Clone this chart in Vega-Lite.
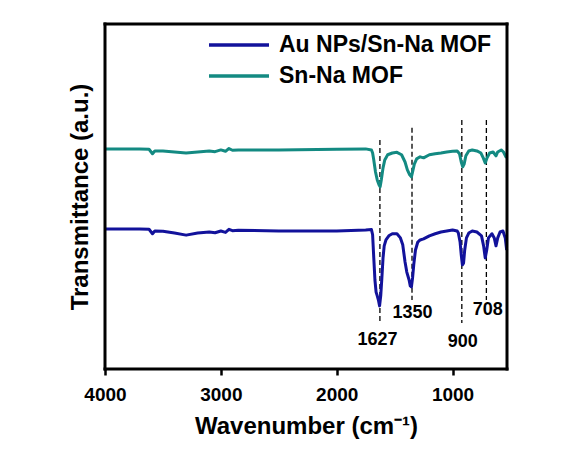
{
  "$schema": "https://vega.github.io/schema/vega-lite/v6.json",
  "autosize": {"type": "none"},
  "padding": {"left": 105, "top": 24, "right": 79, "bottom": 106},
  "width": 402,
  "height": 345,
  "background": "white",
  "config": {
    "view": {"stroke": null},
    "font": "Liberation Sans"
  },
  "datasets": {
    "spectra": [
      {"series": "Sn-Na MOF", "wn": 4000, "t": 63.8},
      {"series": "Sn-Na MOF", "wn": 3700, "t": 63.8},
      {"series": "Sn-Na MOF", "wn": 3620, "t": 63.7},
      {"series": "Sn-Na MOF", "wn": 3590, "t": 62.4},
      {"series": "Sn-Na MOF", "wn": 3570, "t": 63.2},
      {"series": "Sn-Na MOF", "wn": 3500, "t": 63.2},
      {"series": "Sn-Na MOF", "wn": 3400, "t": 62.9},
      {"series": "Sn-Na MOF", "wn": 3300, "t": 62.6},
      {"series": "Sn-Na MOF", "wn": 3200, "t": 62.9},
      {"series": "Sn-Na MOF", "wn": 3100, "t": 63.2},
      {"series": "Sn-Na MOF", "wn": 3050, "t": 63.0},
      {"series": "Sn-Na MOF", "wn": 3000, "t": 63.5},
      {"series": "Sn-Na MOF", "wn": 2960, "t": 63.1},
      {"series": "Sn-Na MOF", "wn": 2930, "t": 63.9},
      {"series": "Sn-Na MOF", "wn": 2900, "t": 63.4},
      {"series": "Sn-Na MOF", "wn": 2850, "t": 63.5},
      {"series": "Sn-Na MOF", "wn": 2500, "t": 63.5},
      {"series": "Sn-Na MOF", "wn": 2000, "t": 63.7},
      {"series": "Sn-Na MOF", "wn": 1750, "t": 63.8},
      {"series": "Sn-Na MOF", "wn": 1700, "t": 63.5},
      {"series": "Sn-Na MOF", "wn": 1690, "t": 62.6},
      {"series": "Sn-Na MOF", "wn": 1680, "t": 60.6},
      {"series": "Sn-Na MOF", "wn": 1665, "t": 57.1},
      {"series": "Sn-Na MOF", "wn": 1650, "t": 54.8},
      {"series": "Sn-Na MOF", "wn": 1635, "t": 53.4},
      {"series": "Sn-Na MOF", "wn": 1625, "t": 52.8},
      {"series": "Sn-Na MOF", "wn": 1615, "t": 54.8},
      {"series": "Sn-Na MOF", "wn": 1600, "t": 58.3},
      {"series": "Sn-Na MOF", "wn": 1585, "t": 60.6},
      {"series": "Sn-Na MOF", "wn": 1560, "t": 62.1},
      {"series": "Sn-Na MOF", "wn": 1520, "t": 62.6},
      {"series": "Sn-Na MOF", "wn": 1480, "t": 62.8},
      {"series": "Sn-Na MOF", "wn": 1440, "t": 62.1},
      {"series": "Sn-Na MOF", "wn": 1410, "t": 60.0},
      {"series": "Sn-Na MOF", "wn": 1390, "t": 57.7},
      {"series": "Sn-Na MOF", "wn": 1370, "t": 56.3},
      {"series": "Sn-Na MOF", "wn": 1355, "t": 55.7},
      {"series": "Sn-Na MOF", "wn": 1345, "t": 57.1},
      {"series": "Sn-Na MOF", "wn": 1330, "t": 59.4},
      {"series": "Sn-Na MOF", "wn": 1310, "t": 60.9},
      {"series": "Sn-Na MOF", "wn": 1280, "t": 61.5},
      {"series": "Sn-Na MOF", "wn": 1250, "t": 61.2},
      {"series": "Sn-Na MOF", "wn": 1200, "t": 62.1},
      {"series": "Sn-Na MOF", "wn": 1150, "t": 62.4},
      {"series": "Sn-Na MOF", "wn": 1100, "t": 62.6},
      {"series": "Sn-Na MOF", "wn": 1050, "t": 62.9},
      {"series": "Sn-Na MOF", "wn": 1000, "t": 63.1},
      {"series": "Sn-Na MOF", "wn": 960, "t": 63.2},
      {"series": "Sn-Na MOF", "wn": 940, "t": 62.4},
      {"series": "Sn-Na MOF", "wn": 925, "t": 60.0},
      {"series": "Sn-Na MOF", "wn": 912, "t": 58.6},
      {"series": "Sn-Na MOF", "wn": 900, "t": 59.4},
      {"series": "Sn-Na MOF", "wn": 885, "t": 61.8},
      {"series": "Sn-Na MOF", "wn": 860, "t": 63.2},
      {"series": "Sn-Na MOF", "wn": 830, "t": 63.5},
      {"series": "Sn-Na MOF", "wn": 790, "t": 63.2},
      {"series": "Sn-Na MOF", "wn": 755, "t": 62.6},
      {"series": "Sn-Na MOF", "wn": 735, "t": 61.2},
      {"series": "Sn-Na MOF", "wn": 718, "t": 59.7},
      {"series": "Sn-Na MOF", "wn": 702, "t": 61.2},
      {"series": "Sn-Na MOF", "wn": 680, "t": 62.6},
      {"series": "Sn-Na MOF", "wn": 650, "t": 62.9},
      {"series": "Sn-Na MOF", "wn": 625, "t": 61.8},
      {"series": "Sn-Na MOF", "wn": 610, "t": 62.9},
      {"series": "Sn-Na MOF", "wn": 580, "t": 63.5},
      {"series": "Sn-Na MOF", "wn": 560, "t": 62.9},
      {"series": "Sn-Na MOF", "wn": 535, "t": 61.2},
      {"series": "Au NPs/Sn-Na MOF", "wn": 4000, "t": 40.6},
      {"series": "Au NPs/Sn-Na MOF", "wn": 3700, "t": 40.6},
      {"series": "Au NPs/Sn-Na MOF", "wn": 3620, "t": 40.5},
      {"series": "Au NPs/Sn-Na MOF", "wn": 3590, "t": 39.2},
      {"series": "Au NPs/Sn-Na MOF", "wn": 3570, "t": 40.0},
      {"series": "Au NPs/Sn-Na MOF", "wn": 3500, "t": 39.9},
      {"series": "Au NPs/Sn-Na MOF", "wn": 3400, "t": 39.4},
      {"series": "Au NPs/Sn-Na MOF", "wn": 3300, "t": 38.8},
      {"series": "Au NPs/Sn-Na MOF", "wn": 3200, "t": 39.4},
      {"series": "Au NPs/Sn-Na MOF", "wn": 3100, "t": 39.7},
      {"series": "Au NPs/Sn-Na MOF", "wn": 3050, "t": 39.5},
      {"series": "Au NPs/Sn-Na MOF", "wn": 3000, "t": 40.0},
      {"series": "Au NPs/Sn-Na MOF", "wn": 2960, "t": 39.6},
      {"series": "Au NPs/Sn-Na MOF", "wn": 2930, "t": 40.5},
      {"series": "Au NPs/Sn-Na MOF", "wn": 2900, "t": 40.1},
      {"series": "Au NPs/Sn-Na MOF", "wn": 2850, "t": 40.2},
      {"series": "Au NPs/Sn-Na MOF", "wn": 2500, "t": 40.0},
      {"series": "Au NPs/Sn-Na MOF", "wn": 2000, "t": 40.0},
      {"series": "Au NPs/Sn-Na MOF", "wn": 1750, "t": 40.3},
      {"series": "Au NPs/Sn-Na MOF", "wn": 1700, "t": 40.4},
      {"series": "Au NPs/Sn-Na MOF", "wn": 1690, "t": 38.9},
      {"series": "Au NPs/Sn-Na MOF", "wn": 1680, "t": 32.2},
      {"series": "Au NPs/Sn-Na MOF", "wn": 1670, "t": 25.8},
      {"series": "Au NPs/Sn-Na MOF", "wn": 1660, "t": 22.3},
      {"series": "Au NPs/Sn-Na MOF", "wn": 1650, "t": 21.2},
      {"series": "Au NPs/Sn-Na MOF", "wn": 1640, "t": 20.0},
      {"series": "Au NPs/Sn-Na MOF", "wn": 1630, "t": 18.3},
      {"series": "Au NPs/Sn-Na MOF", "wn": 1620, "t": 21.2},
      {"series": "Au NPs/Sn-Na MOF", "wn": 1610, "t": 26.4},
      {"series": "Au NPs/Sn-Na MOF", "wn": 1600, "t": 32.2},
      {"series": "Au NPs/Sn-Na MOF", "wn": 1590, "t": 35.7},
      {"series": "Au NPs/Sn-Na MOF", "wn": 1575, "t": 37.4},
      {"series": "Au NPs/Sn-Na MOF", "wn": 1550, "t": 38.6},
      {"series": "Au NPs/Sn-Na MOF", "wn": 1520, "t": 39.2},
      {"series": "Au NPs/Sn-Na MOF", "wn": 1480, "t": 39.2},
      {"series": "Au NPs/Sn-Na MOF", "wn": 1450, "t": 38.0},
      {"series": "Au NPs/Sn-Na MOF", "wn": 1430, "t": 36.0},
      {"series": "Au NPs/Sn-Na MOF", "wn": 1410, "t": 31.0},
      {"series": "Au NPs/Sn-Na MOF", "wn": 1395, "t": 28.1},
      {"series": "Au NPs/Sn-Na MOF", "wn": 1375, "t": 25.8},
      {"series": "Au NPs/Sn-Na MOF", "wn": 1365, "t": 24.1},
      {"series": "Au NPs/Sn-Na MOF", "wn": 1355, "t": 23.8},
      {"series": "Au NPs/Sn-Na MOF", "wn": 1345, "t": 26.4},
      {"series": "Au NPs/Sn-Na MOF", "wn": 1335, "t": 30.2},
      {"series": "Au NPs/Sn-Na MOF", "wn": 1320, "t": 34.5},
      {"series": "Au NPs/Sn-Na MOF", "wn": 1300, "t": 36.8},
      {"series": "Au NPs/Sn-Na MOF", "wn": 1280, "t": 37.4},
      {"series": "Au NPs/Sn-Na MOF", "wn": 1250, "t": 37.7},
      {"series": "Au NPs/Sn-Na MOF", "wn": 1200, "t": 38.6},
      {"series": "Au NPs/Sn-Na MOF", "wn": 1150, "t": 39.2},
      {"series": "Au NPs/Sn-Na MOF", "wn": 1100, "t": 39.7},
      {"series": "Au NPs/Sn-Na MOF", "wn": 1050, "t": 40.0},
      {"series": "Au NPs/Sn-Na MOF", "wn": 1000, "t": 40.3},
      {"series": "Au NPs/Sn-Na MOF", "wn": 960, "t": 40.0},
      {"series": "Au NPs/Sn-Na MOF", "wn": 950, "t": 39.4},
      {"series": "Au NPs/Sn-Na MOF", "wn": 935, "t": 36.8},
      {"series": "Au NPs/Sn-Na MOF", "wn": 925, "t": 33.1},
      {"series": "Au NPs/Sn-Na MOF", "wn": 915, "t": 30.2},
      {"series": "Au NPs/Sn-Na MOF", "wn": 905, "t": 30.7},
      {"series": "Au NPs/Sn-Na MOF", "wn": 895, "t": 34.5},
      {"series": "Au NPs/Sn-Na MOF", "wn": 880, "t": 38.0},
      {"series": "Au NPs/Sn-Na MOF", "wn": 860, "t": 39.4},
      {"series": "Au NPs/Sn-Na MOF", "wn": 830, "t": 40.0},
      {"series": "Au NPs/Sn-Na MOF", "wn": 790, "t": 39.7},
      {"series": "Au NPs/Sn-Na MOF", "wn": 750, "t": 38.6},
      {"series": "Au NPs/Sn-Na MOF", "wn": 732, "t": 35.7},
      {"series": "Au NPs/Sn-Na MOF", "wn": 718, "t": 32.2},
      {"series": "Au NPs/Sn-Na MOF", "wn": 705, "t": 34.5},
      {"series": "Au NPs/Sn-Na MOF", "wn": 690, "t": 38.0},
      {"series": "Au NPs/Sn-Na MOF", "wn": 660, "t": 39.2},
      {"series": "Au NPs/Sn-Na MOF", "wn": 640, "t": 38.0},
      {"series": "Au NPs/Sn-Na MOF", "wn": 625, "t": 35.7},
      {"series": "Au NPs/Sn-Na MOF", "wn": 610, "t": 38.0},
      {"series": "Au NPs/Sn-Na MOF", "wn": 590, "t": 39.7},
      {"series": "Au NPs/Sn-Na MOF", "wn": 565, "t": 40.0},
      {"series": "Au NPs/Sn-Na MOF", "wn": 545, "t": 38.0},
      {"series": "Au NPs/Sn-Na MOF", "wn": 533, "t": 34.5}
    ],
    "guides": [
      {"wn": 1627, "top": 66.4, "bottom": 13.3},
      {"wn": 1350, "top": 69.9, "bottom": 20.0},
      {"wn": 920, "top": 72.2, "bottom": 13.3},
      {"wn": 708, "top": 72.2, "bottom": 20.0}
    ],
    "labels": [
      {"wn": 1647, "t": 8.4, "label": "1627"},
      {"wn": 1345, "t": 16.2, "label": "1350"},
      {"wn": 911, "t": 7.8, "label": "900"},
      {"wn": 696, "t": 17.1, "label": "708"}
    ],
    "hframe": [{"edge": 100}, {"edge": 0}],
    "vframe": [{"side": 4000}, {"side": 530}]
  },
  "encoding": {
    "x": {
      "field": "wn", "type": "quantitative",
      "scale": {"domain": [4000, 530], "nice": false, "zero": false},
      "axis": {
        "title": "Wavenumber (cm⁻¹)",
        "values": [4000, 3000, 2000, 1000],
        "format": "d",
        "grid": false, "domain": false,
        "ticks": true, "tickSize": 6, "tickWidth": 2.5, "tickColor": "black",
        "labelFont": "Liberation Sans", "labelFontWeight": "bold", "labelFontSize": 19, "labelColor": "black",
        "labelPadding": 10, "labelFlush": false,
        "titleFont": "Liberation Sans", "titleFontWeight": "bold", "titleFontSize": 24, "titleColor": "black",
        "titlePadding": 10
      }
    },
    "y": {
      "field": "t", "type": "quantitative",
      "scale": {"domain": [0, 100], "nice": false},
      "axis": {
        "title": "Transmittance (a.u.)",
        "grid": false, "domain": false, "ticks": false, "labels": false,
        "titleFont": "Liberation Sans", "titleFontWeight": "bold", "titleFontSize": 24, "titleColor": "black",
        "titlePadding": 13
      }
    }
  },
  "layer": [
    {
      "data": {"name": "guides"},
      "mark": {"type": "rule", "color": "black", "strokeWidth": 1.3, "strokeDash": [5, 3]},
      "encoding": {
        "y": {"field": "top", "type": "quantitative"},
        "y2": {"field": "bottom"}
      }
    },
    {
      "data": {"name": "spectra"},
      "mark": {"type": "line", "strokeWidth": 3, "strokeJoin": "round"},
      "encoding": {
        "color": {
          "field": "series", "type": "nominal",
          "scale": {"domain": ["Au NPs/Sn-Na MOF", "Sn-Na MOF"], "range": ["#12129b", "#138a82"]},
          "legend": {
            "title": null,
            "orient": "none",
            "legendX": 102,
            "legendY": 9,
            "padding": 0,
            "symbolType": "M-1,0H5",
            "symbolSize": 400,
            "symbolStrokeWidth": 3.5,
            "labelOffset": 48,
            "labelFont": "Liberation Sans", "labelFontWeight": "bold", "labelFontSize": 23, "labelColor": "black",
            "labelLimit": 400,
            "rowPadding": 7
          }
        }
      }
    },
    {
      "data": {"name": "labels"},
      "mark": {"type": "text", "font": "Liberation Sans", "fontWeight": "bold", "fontSize": 18, "color": "black", "baseline": "middle", "align": "center"},
      "encoding": {"text": {"field": "label"}}
    },
    {
      "data": {"name": "hframe"},
      "mark": {"type": "rule", "color": "black", "strokeWidth": 3, "strokeCap": "square"},
      "encoding": {"y": {"field": "edge", "type": "quantitative"}, "x": null}
    },
    {
      "data": {"name": "vframe"},
      "mark": {"type": "rule", "color": "black", "strokeWidth": 3, "strokeCap": "square"},
      "encoding": {"x": {"field": "side", "type": "quantitative"}, "y": null}
    }
  ]
}
